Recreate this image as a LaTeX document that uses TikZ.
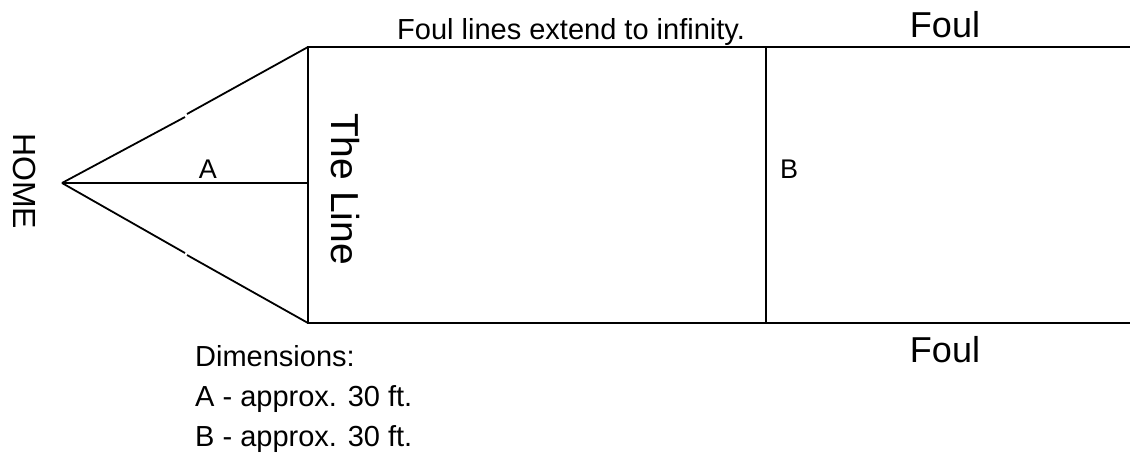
\documentclass[tikz,border=0pt]{standalone}
\usepackage{fontspec}
\setmainfont{Liberation Sans}

\tikzset{
  fieldline/.style={line width=2.6pt},
  sideline/.style={line width=1.8pt},
  lbl/.style={inner sep=0pt},
  small/.style={font=\fontsize{29}{33}\selectfont},
}

\begin{document}
\begin{tikzpicture}[x=1pt, y=-1pt]

\useasboundingbox (0,0) rectangle (1130,456);

% Home plate and the line
\coordinate (H) at (62,183);
\coordinate (TL) at (308,47);
\coordinate (BL) at (308,323);
\coordinate (M) at (308,183);

% Far ends of the foul lines
\coordinate (TR) at (1130,47);
\coordinate (BR) at (1130,323);

% Second line (B)
\coordinate (TB) at (766,47);
\coordinate (BB) at (766,323);

% Small breaks on the two diagonals
\coordinate (U1) at (185,117);
\coordinate (U2) at (187,114);
\coordinate (L1) at (185,253);
\coordinate (L2) at (187,255);

% Diagonals from home
\draw[sideline] (H) -- (U1);
\draw[sideline] (U2) -- (TL);
\draw[sideline] (H) -- (L1);
\draw[sideline] (L2) -- (BL);

% Distance A
\draw[sideline] (H) -- (M);

% The line
\draw[fieldline, line cap=rect] (TL) -- (BL);

% Foul lines
\draw[fieldline] (TL) -- (TR);
\draw[fieldline] (BL) -- (BR);

% Distance B
\draw[sideline] (TB) -- (BB);

% Labels
\node[lbl, small, anchor=base west] (cap) at (397,39)
  {Foul lines extend to infinity.};
\node[lbl, anchor=base, font=\fontsize{36}{40}\selectfont] (foulT) at (945,37) {Foul};
\node[lbl, anchor=base, font=\fontsize{36}{40}\selectfont] (foulB) at (945,362) {Foul};
\node[lbl, rotate=-90, font=\fontsize{32}{36}\selectfont] (home) at (25,181) {HOME};
\node[lbl, rotate=-90, font=\fontsize{39}{43}\selectfont] (line) at (345,189) {The Line};
\node[lbl, anchor=base, font=\fontsize{27}{31}\selectfont] (labA) at (208,178) {A};
\node[lbl, anchor=base, font=\fontsize{27}{31}\selectfont] (labB) at (789,178) {B};

% Dimensions
\node[lbl, small, anchor=base west] (dim) at (195,366) {Dimensions:};
\node[lbl, small, anchor=base west] (dimA) at (195,406) {A - approx. 30 ft.};
\node[lbl, small, anchor=base west] (dimB) at (195,446) {B - approx. 30 ft.};

\end{tikzpicture}
\end{document}
